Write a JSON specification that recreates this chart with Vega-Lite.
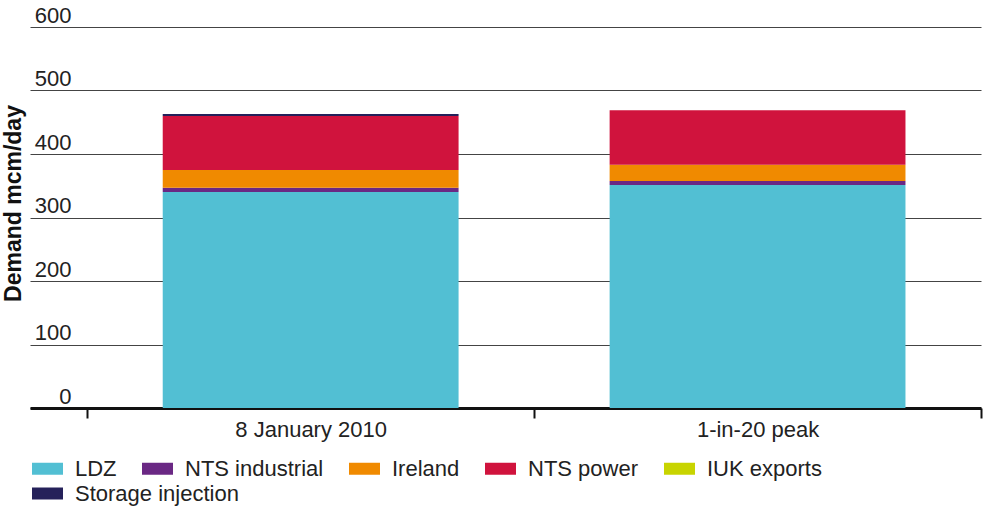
{
  "$schema": "https://vega.github.io/schema/vega-lite/v6.json",
  "width": 951,
  "height": 381,
  "autosize": {"type": "none"},
  "padding": {"left": 30, "top": 27, "right": 5, "bottom": 99},
  "background": "white",
  "config": {
    "view": {"stroke": null},
    "font": "Liberation Sans",
    "axis": {"labelFont": "Liberation Sans", "titleFont": "Liberation Sans"},
    "legend": {"labelFont": "Liberation Sans"}
  },
  "data": {
    "values": [
      {"period": "8 January 2010", "category": "LDZ", "idx": 1, "value": 340},
      {"period": "8 January 2010", "category": "NTS industrial", "idx": 2, "value": 7},
      {"period": "8 January 2010", "category": "Ireland", "idx": 3, "value": 28},
      {"period": "8 January 2010", "category": "NTS power", "idx": 4, "value": 85},
      {"period": "8 January 2010", "category": "IUK exports", "idx": 5, "value": 0},
      {"period": "8 January 2010", "category": "Storage injection", "idx": 6, "value": 3},
      {"period": "1-in-20 peak", "category": "LDZ", "idx": 1, "value": 351},
      {"period": "1-in-20 peak", "category": "NTS industrial", "idx": 2, "value": 6.5},
      {"period": "1-in-20 peak", "category": "Ireland", "idx": 3, "value": 25.5},
      {"period": "1-in-20 peak", "category": "NTS power", "idx": 4, "value": 86},
      {"period": "1-in-20 peak", "category": "IUK exports", "idx": 5, "value": 0},
      {"period": "1-in-20 peak", "category": "Storage injection", "idx": 6, "value": 0}
    ]
  },
  "transform": [
    {"stack": "value", "groupby": ["period"], "sort": [{"field": "idx", "order": "ascending"}], "as": ["v0", "v1"]}
  ],
  "encoding": {
    "x": {
      "field": "period",
      "type": "nominal",
      "sort": ["8 January 2010", "1-in-20 peak"],
      "scale": {"paddingInner": 0, "paddingOuter": 0.064, "align": 1},
      "axis": {
        "title": null,
        "labelAngle": 0,
        "labelFontSize": 22,
        "labelColor": "#222222",
        "labelPadding": 1,
        "tickBand": "extent",
        "tickSize": 10,
        "tickWidth": 2,
        "tickColor": "#111111",
        "domainColor": "#111111",
        "domainWidth": 3,
        "grid": false
      }
    },
    "y": {
      "field": "v0",
      "type": "quantitative",
      "scale": {"domain": [0, 600], "nice": false},
      "axis": {
        "title": "Demand mcm/day",
        "titleFontSize": 23,
        "titleFontWeight": "bold",
        "titleColor": "#111111",
        "titleX": -10,
        "titleY": 176,
        "titleBaseline": "alphabetic",
        "titleAnchor": "middle",
        "values": [0, 100, 200, 300, 400, 500, 600],
        "labelFontSize": 22,
        "labelColor": "#222222",
        "labelAlign": "right",
        "labelBaseline": "bottom",
        "labelPadding": -41,
        "labelOffset": 0,
        "ticks": false,
        "tickSize": 0,
        "domain": false,
        "grid": true,
        "gridColor": "#444444",
        "gridWidth": 1
      }
    },
    "y2": {"field": "v1"}
  },
  "layer": [
    {
      "transform": [{"filter": "datum.category !== 'Storage injection'"}],
      "mark": {"type": "bar", "width": {"band": 0.662}},
      "encoding": {
        "color": {
          "field": "category",
          "type": "nominal",
          "scale": {
            "domain": ["LDZ", "NTS industrial", "Ireland", "NTS power", "IUK exports"],
            "range": ["#52bfd3", "#6a2884", "#f08a00", "#d0133d", "#c8d400"]
          },
          "legend": {
            "title": null,
            "orient": "none",
            "legendX": 2,
            "legendY": 426,
            "direction": "horizontal",
            "columnPadding": 25,
            "symbolType": "M-1,-0.387H1V0.387H-1Z",
            "symbolSize": 961,
            "symbolStrokeWidth": 0,
            "symbolOpacity": 1,
            "labelFontSize": 22,
            "labelColor": "#222222",
            "labelOffset": 12,
            "labelLimit": 300
          }
        }
      }
    },
    {
      "transform": [{"filter": "datum.category === 'Storage injection'"}],
      "mark": {"type": "bar", "width": {"band": 0.662}},
      "encoding": {
        "color": {
          "field": "category",
          "type": "nominal",
          "scale": {"domain": ["Storage injection"], "range": ["#25215a"]},
          "legend": {
            "title": null,
            "orient": "none",
            "legendX": 2,
            "legendY": 451,
            "direction": "horizontal",
            "symbolType": "M-1,-0.387H1V0.387H-1Z",
            "symbolSize": 961,
            "symbolStrokeWidth": 0,
            "symbolOpacity": 1,
            "labelFontSize": 22,
            "labelColor": "#222222",
            "labelOffset": 12,
            "labelLimit": 300
          }
        }
      }
    }
  ],
  "resolve": {"scale": {"color": "independent"}, "legend": {"color": "independent"}}
}
